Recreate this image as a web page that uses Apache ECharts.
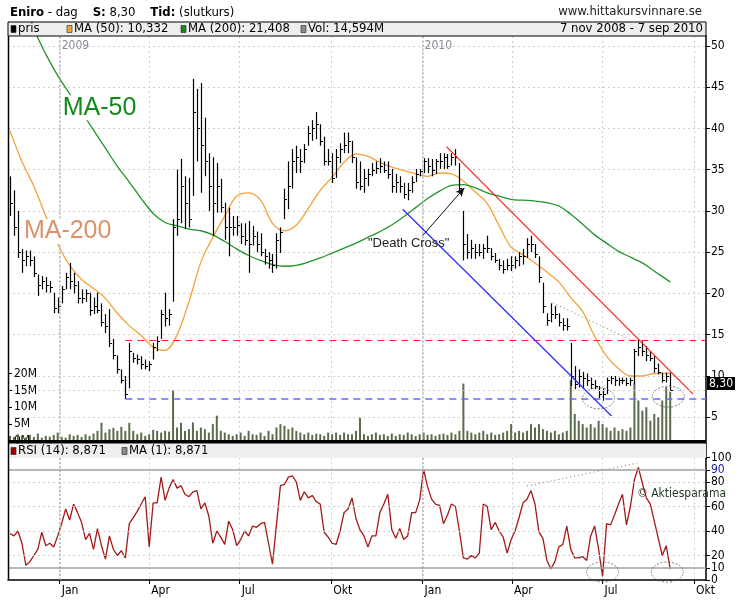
<!DOCTYPE html>
<html>
<head>
<meta charset="utf-8">
<script src="https://cdn.jsdelivr.net/npm/echarts@6/dist/echarts.min.js"></script>
<style>
html, body { margin: 0; padding: 0; background: #fff; }
#chart { width: 750px; height: 603px; }
</style>
</head>
<body>
<div id="chart"></div>
<script>
// dagar på x-axeln, 2008-11-10 .. 2010-10-13
const days = [];
for (let t = Date.UTC(2008, 10, 10); t <= Date.UTC(2010, 9, 13); t += 86400000) {
  days.push(new Date(t).toISOString().slice(0, 10));
}
const monthNames = { '01': 'Jan', '04': 'Apr', '07': 'Jul', '10': 'Okt' };

// kursstaplar, en var 4:e dag från 2008-11-12 (sista = 2010-09-07)
const barStart = '2008-11-12';
const barStep = 4;
const high = [
  34.2, 32.5, 30, 25.4, 25.2, 25.2, 24.5, 22.3, 22.1, 22,
  21.5, 20.1, 19.5, 20.9, 22.5, 23.7, 22.5, 21.5, 20.5, 20.5,
  20.1, 19.5, 20.1, 18.8, 17.5, 18.1, 14.5, 12.5, 10.8, 10,
  14, 12.8, 12.6, 12.4, 12, 11.8, 14, 14.8, 18, 20.1,
  18.1, 29, 35, 36.3, 34.2, 34, 46, 44.8, 45.5, 41.3,
  37, 36.5, 35.8, 33.9, 31, 30.4, 29.4, 29.4, 28.5, 28.5,
  28.8, 28.2, 27.5, 27.3, 25.4, 25, 24.8, 27.3, 28, 32.7,
  36, 37.5, 37.9, 37.5, 38.1, 40.3, 41, 42, 40.5, 39,
  37.5, 37, 37.5, 38.2, 39.5, 39.5, 38.5, 36.5, 36,
  35.1, 35.1, 35.8, 36, 36.4, 36, 36, 35.1, 34.5, 34.2,
  33.4, 33.4, 34.2, 35.1, 35.1, 36.4, 36.4, 36.3, 36.3, 37,
  37, 36.9, 37, 37.5, 35.8, 30, 27.2, 26.5, 26, 26,
  26, 27, 25.5, 24.9, 24.2, 24, 24.2, 24.5, 24.5, 25,
  25.4, 26.7, 27, 26, 24.5, 21.3, 17.6, 18.8, 18.5, 17.6,
  17, 17, 14, 11.2, 10.8, 10.5, 10.3, 9.8, 9.5, 8.8,
  8.5, 9.8, 10, 10, 9.8, 9.8, 9.8, 9.8, 13.3, 14.5,
  14.2, 13.6, 13, 12.4, 11.5, 10.4, 10.4, 10.4
];
const low = [
  29.4, 27, 24.3, 22.5, 23.3, 23.3, 22, 19.7, 20.5, 20.1,
  20.1, 17.6, 17.6, 18.8, 20.5, 20.5, 20, 18.8, 18.8, 19,
  17.3, 17.5, 17.6, 16, 15.2, 13.5, 12, 10.3, 9.1, 7.2,
  8.5, 11.6, 11.4, 10.8, 10.8, 10.6, 12, 13, 14.5, 16,
  16.1, 19, 27, 28.5, 27.8, 28, 31.8, 36, 32.2, 34.2,
  30, 27, 29.8, 29.8, 26.5, 24.5, 27, 27, 26, 25.8,
  22.5, 25.8, 25, 24.5, 23.5, 23, 22.5, 23, 24.9, 29,
  30.2, 32.7, 34.6, 34.6, 35.8, 37.9, 38.5, 38.7, 37.9, 35.5,
  35.5, 33.4, 34, 35.8, 37, 37, 35.8, 32.7, 32.5,
  32.2, 33, 34.2, 34.5, 34.6, 34.6, 33.9, 32.2, 32.2, 32.2,
  31.5, 31.3, 32.2, 33.5, 34.2, 34.6, 34.6, 34.2, 34.5, 35.1,
  35.1, 35.1, 35.5, 35.5, 32.4, 24, 24.2, 24.2, 24.2, 24.5,
  24.2, 24.9, 24, 23.7, 22.8, 22.4, 22.8, 22.7, 23, 23.3,
  23.5, 24.3, 25, 24.3, 21.3, 17.6, 16.1, 16.5, 16.9, 16,
  15.5, 15.5, 8.8, 8.4, 8.6, 8.6, 8.8, 8.4, 8.4, 7.3,
  7.0, 7.8, 9, 8.8, 8.8, 9, 8.8, 8.8, 9, 12.4,
  12.4, 11.8, 11.8, 10.4, 10.2, 9.2, 9.2, 8.3
];
const close = [
  31, 28, 25, 24, 24.5, 24, 22.5, 21, 21.5, 21,
  20.8, 18.2, 18.5, 20.5, 22, 21.5, 21, 19.5, 19.5, 20,
  18, 18.5, 18, 16.5, 16, 14, 12.5, 10.8, 9.5, 7.8,
  13, 12.2, 12, 11.5, 11.2, 11.5, 13.5, 14.2, 17.5, 17,
  17.5, 28, 29, 33, 31, 29, 42, 40, 38, 36,
  33, 31, 33, 30.5, 28, 28, 28, 28.3, 27, 26.5,
  26, 27, 26, 25, 24.5, 24, 23.5, 26.5, 27.5, 31.5,
  33, 36, 36.5, 36, 37.5, 39.5, 40, 40.5, 38.5, 36,
  36, 34, 36.5, 37.5, 38, 38.5, 36.5, 33.5, 33,
  34, 34.5, 35, 35.2, 35.5, 35, 34.5, 33, 33.5, 33,
  32, 32.5, 33.5, 34.5, 34.8, 36, 35.5, 35, 36, 36,
  36.5, 35.5, 36.5, 36.5, 32.8, 26, 25, 25.5, 25, 25,
  25.5, 25.5, 24.5, 24, 23.5, 23, 23.5, 23.5, 24, 24.5,
  24.5, 26, 26, 24.8, 22, 18.5, 16.8, 17.5, 17.5, 16.5,
  16.2, 16, 10, 9, 10, 9.8, 9.5, 9, 8.8, 7.8,
  7.8, 9.5, 9.8, 9.5, 9.5, 9.5, 9.2, 9.5, 13, 13.5,
  13, 12.5, 12.2, 11, 10.5, 9.5, 10, 8.3
];
// volym i miljoner
const volume = [
  1.5, 1.2, 2, 1.5, 1, 1.8, 1.2, 2.2, 1, 1.5,
  1.3, 1.8, 2.5, 1.2, 1, 2, 1.5, 1.8, 1.2, 2,
  1.5, 2.2, 3, 5.4, 2.5, 3.5, 3.9, 3, 4.2, 3,
  5.4, 3, 2, 2.5, 1.5, 2, 3.3, 3, 2.5, 3,
  2.8, 15, 4, 5.4, 3, 3.5, 5.5, 3, 4, 3.5,
  2.5, 5, 7.5, 3, 2.5, 2, 1.5, 2, 2.5, 1.5,
  3, 2, 1.8, 2.5, 1.5, 3, 2, 4, 5, 4.5,
  3.5, 4, 3, 2.5, 2, 2.5, 1.8, 2.2, 2, 1.5,
  2.5, 2, 2.5, 1.8, 2.5, 2, 2, 3, 6.9,
  2, 1.5, 2, 2.5, 1.8, 2, 1.5, 2.2, 1.5, 2,
  1.8, 2.5, 2, 1.5, 2, 2.5, 1.8, 2, 1.5, 2,
  2.2, 1.8, 2.5, 2, 3, 17, 3, 2.5, 2, 2.5,
  3, 2, 2.5, 1.8, 2, 2.5, 3, 5, 2.5, 3,
  2.5, 3, 5, 4, 5, 3.5, 3, 2.5, 3, 2,
  2.5, 3, 18, 8, 6, 5, 4, 5, 4, 6,
  5, 4, 3, 4, 3, 3.5, 3, 4, 17, 12,
  9, 10, 6, 8, 7, 12, 16, 14.594
];
const rsi = [
  38, 36, 40, 30, 12, 15, 20, 25, 39, 28,
  30, 27, 36, 46, 58, 49, 62, 55, 47, 33,
  38, 25, 42, 28, 17, 36, 25, 20, 24, 18,
  46, 51, 56, 62, 68, 27, 63, 63, 84, 65,
  75, 82, 75, 77, 70, 68, 72, 73, 58, 63,
  52, 30, 40, 35, 29, 48, 41, 28, 33, 40,
  36, 44, 43, 46, 47, 30, 13, 45, 77, 78,
  84, 85, 80, 65, 72, 67, 69, 64, 62, 39,
  35, 30, 29, 40, 55, 58, 67, 50, 41,
  36, 27, 36, 36, 55, 62, 70, 41, 34, 42,
  33, 36, 55, 55, 65, 90, 76, 66, 62, 61,
  46, 53, 62, 60, 40, 18, 17, 20, 18, 22,
  62, 60, 41, 47, 40, 35, 22, 33, 40, 51,
  63, 66, 73, 62, 39, 34, 16, 9, 15, 27,
  29, 44, 25, 18, 18, 19, 16, 36, 44, 25,
  3, 46, 45, 53, 62, 70, 45, 60, 82, 92,
  79, 67, 62, 48, 34, 20, 28, 8.871
];

// glidande medelvärden, ett värde var 12:e dag från 2008-11-12, plus sista dagen
const maStep = 12;
const ma50 = [
  39.7, 36, 33, 29.4, 26, 23.4, 21.7, 20.6, 19.4, 17.6,
  16.1, 14.9, 13.5, 13.1, 15, 19, 23.8, 26.8, 29.4, 31.8,
  32.2, 31.3, 28.5, 27.6, 28.3, 30.3, 32.5, 34.1, 35.9, 36.9,
  36.6, 35.9, 35.3, 34.9, 34.5, 34.2, 34.6, 34.5, 33.6, 32.3,
  30.9, 28.2, 25.6, 24.7, 23.7, 22.6, 21.4, 19.5, 17.8, 14.8,
  12.4, 10.9, 10, 10, 10.3
];
const ma200 = [
  58, 55, 52, 49, 46.4, 44.2, 42, 39.8, 37.6, 35.4,
  33.5, 31.5, 29.7, 28.6, 28.2, 27.8, 27.6, 27.1, 26.3, 25.4,
  24.6, 24, 23.5, 23.3, 23.4, 23.8, 24.3, 24.9, 25.5, 26.1,
  26.8, 27.5, 28.3, 29.3, 30.4, 31.5, 32.4, 33.1, 33.2, 32.8,
  32.2, 31.8, 31.4, 31.3, 31.2, 31, 30.6, 29.6, 28.4, 27.1,
  26.1, 25.1, 24.4, 23.7, 22.7
];
const lastDay = '2010-09-07';
const lastMa50 = 10.332, lastMa200 = 21.408;

// ritade hjälplinjer (datum, kurs)
const trendLines = [
  ['2010-01-25', 37.8, '2010-09-30', 7.8, '#ff1a1a'],
  ['2009-12-12', 30.2, '2010-07-10', 5.15, '#2a2aff']
];
const levelStart = '2009-03-08';
const resistance = 14.3, support = 7.2;
const priceDots = ['2010-05-12', 18.85, '2010-07-31', 14.3];
const rsiDots = ['2010-04-16', 76.7, '2010-08-05', 95.5];
const deathArrow = ['2010-01-01', 27.0, '2010-02-12', 32.8];
const priceRings = [['2010-06-27', 7.3], ['2010-09-05', 7.5]];
const rsiRings = [['2010-07-01', 6.5], ['2010-09-04', 6.5]];
const rsiLevels = [20, 40, 60, 80, 100];
const rsiBands = [10, 90];
const priceTicks = [5, 10, 15, 20, 25, 30, 35, 40, 45, 50];
const rsiTicks = [0, 10, 20, 40, 60, 80, 90, 100];

const NARROW = "'Liberation Sans Narrow', 'Arial Narrow', 'DejaVu Sans Condensed', sans-serif";
const idx = d => days.indexOf(d);
const isQuarter = (i, v) => v.slice(8) === '01' && monthNames[v.slice(5, 7)] !== undefined;
const isJan = (i, v) => v.slice(5) === '01-01';
const b0 = idx(barStart);

const bars = high.map((h, m) => [b0 + barStep * m, h, low[m], close[m]]);
const vols = volume.map((v, m) => [b0 + barStep * m, v]);
const rsiData = rsi.map((v, m) => [b0 + barStep * m, v]);
const ma50Data = ma50.map((v, j) => [b0 + maStep * j, v]).concat([[idx(lastDay), lastMa50]]);
const ma200Data = ma200.map((v, j) => [b0 + maStep * j, v]).concat([[idx(lastDay), lastMa200]]);
const janLines = days.filter(d => d.slice(5) === '01-01').map(d => ({ xAxis: idx(d) }));

const dotted = { color: '#cfcfcf', type: [2, 3], width: 1 };
const chart = echarts.init(document.getElementById('chart'));

const option = {
  animation: false,
  backgroundColor: '#fff',
  textStyle: { fontFamily: NARROW },
  grid: [
    { left: 8, right: 44, top: 36, bottom: 144.5 },
    { left: 8, right: 44, top: 373.5, bottom: 162 },
    { left: 8, right: 44, top: 457.5, bottom: 23 }
  ],
  xAxis: [
    {
      type: 'category', gridIndex: 0, data: days, boundaryGap: false, position: 'top',
      axisLine: { show: false }, axisTick: { show: false },
      axisLabel: {
        inside: true, interval: isJan, formatter: v => v.slice(0, 4),
        color: '#8a8a98', fontSize: 12, align: 'left', margin: 4, padding: [0, 0, 0, 2]
      },
      splitLine: { show: true, interval: isQuarter, lineStyle: dotted }
    },
    { type: 'category', gridIndex: 1, data: days, boundaryGap: false, show: false },
    {
      type: 'category', gridIndex: 2, data: days, boundaryGap: false, position: 'bottom',
      axisLine: { lineStyle: { color: '#000', width: 1.5 } },
      axisTick: { interval: isQuarter, length: 4, lineStyle: { color: '#000' } },
      axisLabel: {
        interval: isQuarter, formatter: v => monthNames[v.slice(5, 7)],
        color: '#000', fontSize: 12, align: 'left', margin: 5, padding: [0, 0, 0, 2]
      },
      splitLine: { show: true, interval: isQuarter, lineStyle: dotted }
    }
  ],
  yAxis: [
    {
      type: 'value', gridIndex: 0, position: 'right', min: 0, max: 51.2, interval: 5,
      axisLine: { show: true, lineStyle: { color: '#000', width: 1.5 } },
      axisTick: { show: true, length: 4, customValues: priceTicks, lineStyle: { color: '#000' } },
      axisLabel: {
        customValues: priceTicks, color: '#000', fontSize: 12, margin: 5,
        formatter: v => (v > 0 && v <= 50 ? String(v) : '')
      },
      splitLine: { show: true, lineStyle: dotted }
    },
    {
      type: 'value', gridIndex: 1, position: 'left', min: 0, max: 20, interval: 5,
      axisLine: { show: false },
      axisTick: { show: true, inside: true, length: 4, lineStyle: { color: '#000' } },
      axisLabel: { inside: true, formatter: '{value}M', color: '#000', fontSize: 12, margin: 6 },
      splitLine: { show: false }
    },
    {
      type: 'value', gridIndex: 2, position: 'right', min: 0, max: 100, interval: 10,
      axisLine: { show: true, lineStyle: { color: '#000', width: 1.5 } },
      axisTick: { show: true, length: 4, customValues: rsiTicks, lineStyle: { color: '#000' } },
      axisLabel: {
        customValues: rsiTicks, fontSize: 12, margin: 5,
        color: v => (Number(v) === 90 ? '#1a1aa0' : '#000')
      },
      splitLine: { show: false }
    }
  ],
  series: [
    {
      name: 'pris', type: 'custom', xAxisIndex: 0, yAxisIndex: 0, z: 4,
      encode: { x: 0, y: [1, 2, 3] },
      data: bars,
      renderItem: (params, api) => {
        const hi = api.coord([api.value(0), api.value(1)]);
        const lo = api.coord([api.value(0), api.value(2)]);
        const cl = api.coord([api.value(0), api.value(3)]);
        const x = Math.round(hi[0]) + 0.5;
        const yc = Math.round(cl[1]) + 0.5;
        return {
          type: 'group',
          children: [
            { type: 'line', shape: { x1: x, y1: hi[1], x2: x, y2: lo[1] }, style: { stroke: '#000', lineWidth: 1.2 } },
            { type: 'line', shape: { x1: x, y1: yc, x2: x + 2.5, y2: yc }, style: { stroke: '#000', lineWidth: 1 } }
          ]
        };
      }
    },
    {
      name: 'MA (50)', type: 'line', xAxisIndex: 0, yAxisIndex: 0, z: 3,
      data: ma50Data, showSymbol: false, smooth: 0.35,
      lineStyle: { color: '#f2a33a', width: 1.3 },
      markLine: {
        silent: true, symbol: 'none', label: { show: false },
        data: [
          ...janLines.map(d => Object.assign({ lineStyle: { color: '#b4b4b4', width: 1.5, type: [2, 2] } }, d)),
          [
            { coord: [idx(levelStart), resistance], lineStyle: { color: '#ff2020', width: 1.2, type: [7, 5] } },
            { coord: [days.length - 1, resistance] }
          ],
          [
            { coord: [idx(levelStart), support], lineStyle: { color: '#6a6af5', width: 1.6, type: [7, 5] } },
            { coord: [days.length - 1, support] }
          ],
          ...trendLines.map(t => [
            { coord: [idx(t[0]), t[1]], lineStyle: { color: t[4], width: 1.2, type: 'solid' } },
            { coord: [idx(t[2]), t[3]] }
          ]),
          [
            { coord: [idx(priceDots[0]), priceDots[1]], lineStyle: { color: '#777', width: 1, type: [1, 3] } },
            { coord: [idx(priceDots[2]), priceDots[3]] }
          ],
          [
            { coord: [idx(deathArrow[0]), deathArrow[1]], lineStyle: { color: '#111', width: 1, type: 'solid' } },
            { coord: [idx(deathArrow[2]), deathArrow[3]], symbol: 'arrow', symbolSize: [6, 9] }
          ]
        ]
      }
    },
    {
      name: 'MA (200)', type: 'line', xAxisIndex: 0, yAxisIndex: 0, z: 3,
      data: ma200Data, showSymbol: false, smooth: 0.35,
      lineStyle: { color: '#24942a', width: 1.3 }
    },
    {
      name: 'Vol', type: 'bar', xAxisIndex: 1, yAxisIndex: 1, z: 1,
      data: vols, barWidth: 2, itemStyle: { color: '#5a6c4c' },
      markLine: {
        silent: true, symbol: 'none', label: { show: false },
        data: [{ yAxis: 15, lineStyle: dotted }]
      }
    },
    {
      name: 'RSI (14)', type: 'line', xAxisIndex: 2, yAxisIndex: 2, z: 4,
      data: rsiData, showSymbol: false,
      lineStyle: { color: '#a51818', width: 1.3 },
      markLine: {
        silent: true, symbol: 'none', label: { show: false },
        data: [
          ...janLines.map(d => Object.assign({ lineStyle: { color: '#b4b4b4', width: 1.5, type: [2, 2] } }, d)),
          ...rsiLevels.map(v => ({ yAxis: v, lineStyle: dotted })),
          ...rsiBands.map(v => ({ yAxis: v, lineStyle: { color: '#a0a0a0', width: 1.5, type: 'solid' } })),
          [
            { coord: [idx(rsiDots[0]), rsiDots[1]], lineStyle: { color: '#777', width: 1, type: [1, 3] } },
            { coord: [idx(rsiDots[2]), rsiDots[3]] }
          ]
        ]
      }
    }
  ]
};
chart.setOption(option);

const P = (d, v) => chart.convertToPixel({ gridIndex: 0 }, [idx(d), v]);
const R = (d, v) => chart.convertToPixel({ gridIndex: 2 }, [idx(d), v]);

function txt(x, y, text, opts) {
  return {
    type: 'text', x, y, z: 120,
    style: Object.assign({ text, fill: '#000', font: '13px ' + NARROW, verticalAlign: 'middle', align: 'left' }, opts || {})
  };
}
function box(x, y, color) {
  return { type: 'rect', z: 120, shape: { x, y, width: 5, height: 7 }, style: { fill: color, stroke: '#222', lineWidth: 0.6 } };
}
function ring(c, rx, ry) {
  return {
    type: 'circle', z: 110, x: c[0], y: c[1], scaleY: ry / rx,
    shape: { cx: 0, cy: 0, r: rx },
    style: { fill: 'none', stroke: '#555', lineWidth: 1, lineDash: [2, 2], strokeNoScale: true }
  };
}

const lastPx = P(lastDay, 8.30);
const ma50Label = P('2009-02-10', 42.5);
const ma200Label = P('2009-01-09', 27.5);
const deathLabel = P('2009-12-18', 26.1);

const graphics = [
  // titelrad
  {
    type: 'text', x: 10, y: 13, z: 120,
    style: {
      text: '{b|Eniro} - dag    {b|S:} 8,30    {b|Tid:} (slutkurs)',
      font: '13px ' + NARROW, fill: '#000', verticalAlign: 'middle',
      rich: { b: { fontWeight: 'bold', fontSize: 13, fontFamily: NARROW, fill: '#000' } }
    }
  },
  txt(702, 12, 'www.hittakursvinnare.se', { align: 'right', fill: '#222' }),
  // legendrad
  { type: 'rect', z: 115, shape: { x: 8, y: 22, width: 698, height: 14 }, style: { fill: '#eeeeee', stroke: '#000', lineWidth: 1 } },
  box(11, 25.5, '#000'), txt(18, 29, 'pris'),
  box(67, 25.5, '#f2a33a'), txt(74, 29, 'MA (50): 10,332'),
  box(181, 25.5, '#1a8a1a'), txt(188, 29, 'MA (200): 21,408'),
  box(301, 25.5, '#8c8c8c'), txt(308, 29, 'Vol: 14,594M'),
  txt(703, 29, '7 nov 2008 - 7 sep 2010', { align: 'right' }),
  // ramar
  { type: 'line', z: 118, shape: { x1: 8.5, y1: 36, x2: 8.5, y2: 580 }, style: { stroke: '#000', lineWidth: 1.5 } },
  { type: 'rect', z: 118, shape: { x: 8, y: 440, width: 698, height: 3.5 }, style: { fill: '#000' } },
  // RSI-rubrik
  { type: 'rect', z: 115, shape: { x: 9, y: 443.5, width: 697, height: 14.5 }, style: { fill: '#eef0ee' } },
  box(11, 447.5, '#a00000'), txt(18, 451, 'RSI (14): 8,871'),
  box(122, 447.5, '#8c8c8c'), txt(129, 451, 'MA (1): 8,871'),
  // senaste kurs
  { type: 'rect', z: 120, shape: { x: 707, y: lastPx[1] - 13, width: 28, height: 13 }, style: { fill: '#000' } },
  txt(721, lastPx[1] - 6.5, '8,30', { fill: '#fff', align: 'center', font: '12px ' + NARROW }),
  // anteckningar
  txt(ma50Label[0], ma50Label[1], 'MA-50', {
    align: 'center', fill: '#12891a', font: '25px Liberation Sans, Arial, sans-serif', backgroundColor: '#fff'
  }),
  txt(ma200Label[0], ma200Label[1], 'MA-200', {
    align: 'center', fill: '#d9936b', font: '25px Liberation Sans, Arial, sans-serif', backgroundColor: '#fff'
  }),
  txt(deathLabel[0], deathLabel[1], '"Death Cross"', {
    align: 'center', fill: '#222', font: '13px Liberation Sans, Arial, sans-serif'
  }),
  txt(637, 494, '\u00a9 Aktiesparama', { fill: '#1e381e', font: '12px ' + NARROW }),
  ...priceRings.map(r => ring(P(r[0], r[1]), 16, 10.5)),
  ...rsiRings.map(r => ring(R(r[0], r[1]), 16, 10))
];
chart.setOption({ graphic: graphics });
</script>
</body>
</html>
